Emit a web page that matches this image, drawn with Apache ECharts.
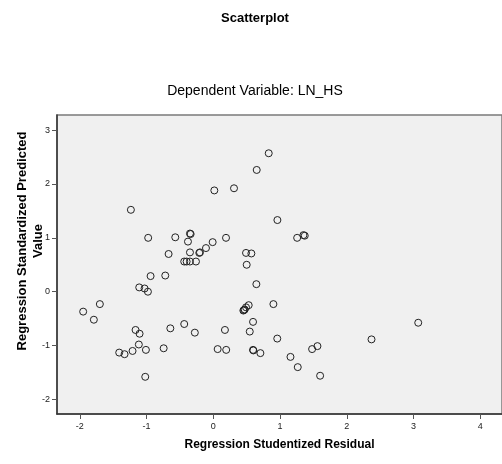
<!DOCTYPE html>
<html>
<head>
<meta charset="utf-8">
<title>Scatterplot</title>
<script src="https://cdn.jsdelivr.net/npm/echarts@6/dist/echarts.min.js"></script>
<style>
  html, body { margin: 0; padding: 0; background: #fff; }
  #chart { width: 502px; height: 464px; }
</style>
</head>
<body>
<div id="chart"></div>
<script>
// studentized residual (x) and standardized predicted value (y)
const residual = [
  0.83, 0.65, 0.015, 0.31, -1.235, 0.96, -0.976, -0.57, -0.35, -0.34,
  -0.38, 0.19, -0.01, -0.11, -0.21, -0.20, -0.35, -0.67, 0.49, 0.57,
  1.256, 1.35, 1.37, -0.436, -0.40, -0.35, -0.26, 0.50, -0.94, -0.72,
  0.645, -1.11, -1.03, -0.98, -1.70, -1.95, -1.79, 0.53, 0.49, 0.46,
  0.45, 0.47, 0.90, 0.595, -1.165, -1.105, -0.644, -0.436, -0.277, 0.174,
  0.546, 0.958, -1.116, -1.41, -1.33, -1.21, -1.01, -0.744, 0.065, 0.193,
  0.595, 0.60, 0.705, -1.02, 1.156, 1.265, 1.48, 1.56, 1.60, 2.37,
  3.07
];
const predicted = [
  2.57, 2.26, 1.88, 1.92, 1.52, 1.33, 1.0, 1.01, 1.08, 1.07,
  0.93, 1.0, 0.92, 0.81, 0.72, 0.73, 0.73, 0.70, 0.72, 0.71,
  1.0, 1.05, 1.04, 0.56, 0.56, 0.56, 0.56, 0.50, 0.29, 0.30,
  0.14, 0.08, 0.06, 0.0, -0.23, -0.37, -0.52, -0.25, -0.29, -0.34,
  -0.35, -0.33, -0.23, -0.56, -0.71, -0.78, -0.68, -0.60, -0.76, -0.71,
  -0.74, -0.87, -0.98, -1.13, -1.16, -1.10, -1.08, -1.05, -1.065, -1.08,
  -1.08, -1.09, -1.14, -1.58, -1.21, -1.40, -1.065, -1.01, -1.56, -0.885,
  -0.576
];
const xTicks = [-2, -1, 0, 1, 2, 3, 4];
const yTicks = [-2, -1, 0, 1, 2, 3];

const points = residual.map((x, i) => [x, predicted[i]]);

const myChart = echarts.init(document.getElementById('chart'), null, { renderer: 'canvas' });

const font = '"Liberation Sans", Arial, sans-serif';

const option = {
  backgroundColor: '#fff',
  animation: false,
  title: [
    {
      text: 'Scatterplot',
      left: 255, top: 12, textAlign: 'center', padding: 0,
      textStyle: { fontFamily: font, fontSize: 13, fontWeight: 'bold', color: '#000' }
    },
    {
      text: 'Dependent Variable: LN_HS',
      left: 255, top: 84, textAlign: 'center', padding: 0,
      textStyle: { fontFamily: font, fontSize: 14, fontWeight: 'normal', color: '#000' }
    }
  ],
  graphic: [
    {
      type: 'text',
      x: 30, y: 241,
      rotation: Math.PI / 2,
      style: {
        text: 'Regression Standardized Predicted\nValue',
        font: 'bold 13px ' + font,
        fill: '#000',
        align: 'center',
        verticalAlign: 'middle',
        lineHeight: 16
      }
    }
  ],
  grid: {
    left: 57, right: -3, top: 115, bottom: 50,
    show: true,
    backgroundColor: '#f0f0f0',
    borderColor: '#7a7a7a',
    borderWidth: 1.5
  },
  xAxis: {
    type: 'value',
    min: -2.342, max: 4.325,
    name: 'Regression Studentized Residual',
    nameLocation: 'middle',
    nameGap: 25,
    nameTextStyle: { fontFamily: font, fontSize: 12, fontWeight: 'bold', color: '#000' },
    splitLine: { show: false },
    axisLine: { onZero: false, lineStyle: { color: '#333', width: 1.5 } },
    axisTick: { customValues: xTicks, length: 5, lineStyle: { color: '#555' } },
    axisLabel: { customValues: xTicks, fontFamily: font, fontSize: 9, color: '#222', margin: 8 }
  },
  yAxis: {
    type: 'value',
    min: -2.27, max: 3.28,
    splitLine: { show: false },
    axisLine: { show: true, onZero: false, lineStyle: { color: '#333', width: 1.5 } },
    axisTick: { show: true, customValues: yTicks, length: 5, lineStyle: { color: '#555' } },
    axisLabel: { customValues: yTicks, fontFamily: font, fontSize: 9, color: '#222', margin: 7 }
  },
  series: [
    {
      type: 'scatter',
      data: points,
      symbol: 'circle',
      symbolSize: 7,
      itemStyle: { color: 'rgba(0,0,0,0)', borderColor: '#222', borderWidth: 1, opacity: 1 }
    }
  ]
};

myChart.setOption(option);
</script>
</body>
</html>
